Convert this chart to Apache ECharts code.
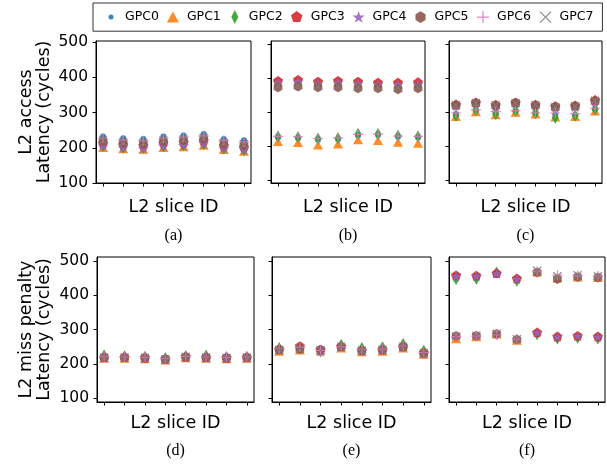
<!DOCTYPE html>
<html>
<head>
<meta charset="utf-8">
<script src="https://cdn.jsdelivr.net/npm/echarts@6/dist/echarts.min.js"></script>
<style>
html,body{margin:0;padding:0;background:#fff;}
#chart{width:607px;height:466px;}
</style>
</head>
<body>
<div id="chart"></div>
<script>
// ---------------- data ----------------
const gpcNames = ['GPC0','GPC1','GPC2','GPC3','GPC4','GPC5','GPC6','GPC7'];
const sliceIds = [0,1,2,3,4,5,6,7];
const yTicks = [100,200,300,400,500];
const captions = ['(a)','(b)','(c)','(d)','(e)','(f)'];
const xAxisName = 'L2 slice ID';
const rowLabels = ['L2 access\nLatency (cycles)', 'L2 miss penalty\nLatency (cycles)'];

// rows: GPC0..GPC7, columns: slice 0..7
const accessA = [
  [232,227,225,232,235,239,225,221],
  [201,197,196,201,203,207,195,190],
  [205,200,199,204,207,211,198,194],
  [213,209,207,214,216,220,206,202],
  [205,201,198,205,207,212,199,195],
  [219,214,212,219,222,226,212,208],
  [227,222,220,227,230,234,221,216],
  [221,216,214,221,224,228,214,210]
];
const accessB = [
  [225,223,218,220,231,232,227,225],
  [213,210,203,206,218,216,211,208],
  [228,226,221,223,235,235,230,228],
  [392,395,390,392,390,387,387,388],
  [386,389,384,386,384,381,381,382],
  [373,375,373,373,370,370,367,370],
  [228,227,222,224,234,235,229,228],
  [377,379,377,377,374,374,372,374]
];
const accessC = [
  [294,304,298,302,296,292,292,309],
  [287,301,292,299,294,285,287,303],
  [289,305,294,304,296,283,289,307],
  [323,329,322,329,322,318,320,336],
  [318,325,318,325,317,313,315,330],
  [319,326,318,326,319,314,316,332],
  [297,306,301,304,297,297,295,311],
  [320,327,320,327,321,315,317,333]
];
const missD = [
  [220,220,219,215,222,220,219,220],
  [216,216,215,211,218,216,215,216],
  [224,222,221,217,223,224,220,221],
  [219,219,218,214,221,219,218,219],
  [218,218,217,213,220,218,217,218],
  [219,219,218,214,221,219,218,219],
  [221,220,219,215,222,220,219,220],
  [219,219,218,214,221,219,218,219]
];
const missE = [
  [241,244,240,250,239,241,250,232],
  [237,240,238,246,235,237,246,228],
  [246,247,236,255,246,248,258,238],
  [243,252,242,251,240,242,251,233],
  [240,244,236,249,238,240,249,230],
  [241,243,241,250,238,241,250,231],
  [244,248,239,250,241,243,252,233],
  [241,244,240,250,239,241,250,232]
];
const missF = [
  [455,455,463,447,291,279,281,279],
  [273,279,287,269,467,450,453,451],
  [447,448,466,442,286,274,276,274],
  [458,457,464,449,292,280,282,280],
  [455,456,463,447,291,279,281,279],
  [281,282,287,271,466,447,453,451],
  [279,281,284,272,469,458,457,456],
  [280,282,288,272,471,455,458,455]
];
const panelData = [accessA, accessB, accessC, missD, missE, missF];

// ---------------- styles / layout ----------------
const colors = ['#1f77b4','#ff7f0e','#2ca02c','#d62728','#9467bd','#8c564b','#e377c2','#7f7f7f'];
const symbols = [
  'circle',
  'triangle',
  'diamond',
  'path://M10,0 L19.51,6.91 L15.88,18.09 L4.12,18.09 L0.49,6.91 Z',
  'path://M10,0 L12.245,6.91 L19.51,6.91 L13.633,11.18 L15.88,18.09 L10,13.82 L4.12,18.09 L6.367,11.18 L0.49,6.91 L7.755,6.91 Z',
  'path://M10,0 L18.66,5 L18.66,15 L10,20 L1.34,15 L1.34,5 Z',
  'path://M10,0 L10,20 M0,10 L20,10',
  'path://M0,0 L20,20 M20,0 L0,20'
];
const symbolSizes = [6,[10,9],[7,12],10,11,10,10,8];
const strokeOnly = [false,false,false,false,false,false,true,true];
const legendIcons = [
  'path://M0,0M18,14M6.5,7A2.5,2.5,0,1,1,11.5,7A2.5,2.5,0,1,1,6.5,7Z',
  'path://M0,0M18,14M3,12.5L9,1.5L15,12.5Z',
  'path://M0,0M18,14M9,0L12.5,7L9,14L5.5,7Z',
  'path://M0,0M18,14M9,1L14.71,5.15L12.53,11.85L5.47,11.85L3.29,5.15Z',
  'path://M0,0M18,14M9,1L10.47,5.48L15.18,5.49L11.38,8.27L12.82,12.76L9,10L5.18,12.76L6.62,8.27L2.82,5.49L7.53,5.48Z',
  'path://M0,0M18,14M9,1.2L14.02,4.1L14.02,9.9L9,12.8L3.98,9.9L3.98,4.1Z',
  'path://M0,0M18,14M9,1L9,13M3,7L15,7',
  'path://M0,0M18,14M3.5,1.5L14.5,12.5M14.5,1.5L3.5,12.5'
];

const grids = [
  {left:96, top:41, width:155, height:142},
  {left:271, top:41, width:154, height:142},
  {left:449, top:41, width:153, height:142},
  {left:97, top:257, width:157, height:145},
  {left:272, top:257, width:159, height:145},
  {left:449, top:257, width:156, height:145}
];
const yRanges = [[100,503],[91,509],[91,509],[89,511],[89,511],[89,511]];
const nameGaps = [15,15,15,12,12,12];
const captionY = [236,236,236,451,451,451];

const FONT = 'DejaVu Sans';

const option = {
  animation: false,
  backgroundColor: '#fff',
  grid: grids.map(g => Object.assign({show:true, borderColor:'#000', borderWidth:1, containLabel:false}, g)),
  xAxis: grids.map((g,i) => ({
    type:'value', gridIndex:i, min:-0.35, max:7.35,
    axisLine:{show:true, onZero:false, lineStyle:{color:'#000', width:1}},
    axisTick:{show:true, length:3.5, customValues:sliceIds, lineStyle:{color:'#000', width:1}},
    axisLabel:{show:false},
    splitLine:{show:false},
    name: xAxisName, nameLocation:'middle', nameGap:nameGaps[i],
    nameTextStyle:{fontFamily:FONT, fontSize:17.5, color:'#000'}
  })),
  yAxis: grids.map((g,i) => ({
    type:'value', gridIndex:i, min:yRanges[i][0], max:yRanges[i][1],
    axisLine:{show:true, onZero:false, lineStyle:{color:'#000', width:1}},
    axisTick:{show:true, length:3.5, customValues:yTicks, lineStyle:{color:'#000', width:1}},
    axisLabel:{show:(i===0||i===3), customValues:yTicks, margin:8,
      fontFamily:FONT, fontSize:15.5, color:'#000'},
    splitLine:{show:false}
  })),
  legend: {
    left: 93, top: 3,
    itemWidth: 18, itemHeight: 14, itemGap: 5,
    padding: [6.5, 9, 6.5, 9],
    borderColor: '#333', borderWidth: 1, borderRadius: 0,
    selectedMode: false,
    textStyle: {fontFamily:FONT, fontSize:12.5, color:'#000'},
    data: gpcNames.map((n,g) => ({
      name: n, icon: legendIcons[g],
      itemStyle: strokeOnly[g] ? {borderWidth:1.2, borderColor:colors[g], color:'transparent'} : {borderWidth:0, color:colors[g]}
    }))
  },
  graphic: [],
  series: []
};

panelData.forEach((pd, p) => {
  gpcNames.forEach((n, g) => {
    option.series.push({
      type:'scatter', name:n, xAxisIndex:p, yAxisIndex:p,
      symbol: symbols[g], symbolSize: symbolSizes[g], symbolKeepAspect: true,
      itemStyle: strokeOnly[g]
        ? {color:'transparent', borderColor:colors[g], borderWidth:1.2, opacity:0.9}
        : {color:colors[g], opacity:0.9},
      emphasis:{disabled:true},
      data: sliceIds.map((s, k) => [s, pd[g][k]])
    });
  });
});

// row y-axis titles
rowLabels.forEach((t, r) => {
  const g = grids[r*3];
  option.graphic.push({
    type:'text', x:35, y:g.top + g.height/2, rotation: Math.PI/2,
    style:{text:t, fontFamily:FONT, fontSize:17.5, lineHeight:18, fill:'#000',
      align:'center', verticalAlign:'middle', textAlign:'center', textVerticalAlign:'middle'}
  });
});
// captions
captions.forEach((c, i) => {
  const g = grids[i];
  option.graphic.push({
    type:'text', x:g.left + g.width/2, y:captionY[i],
    style:{text:c, fontFamily:'Liberation Serif', fontSize:16, fill:'#000',
      align:'center', verticalAlign:'middle', textAlign:'center', textVerticalAlign:'middle'}
  });
});

const chart = echarts.init(document.getElementById('chart'), null, {renderer:'canvas'});
chart.setOption(option);
</script>
</body>
</html>
